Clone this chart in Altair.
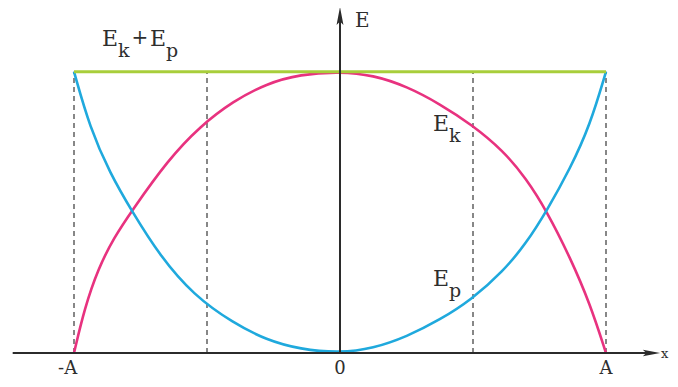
import altair as alt
import pandas as pd

# x in units of amplitude A, energy in units of total energy E
ek_x = [-1.0, -0.96, -0.909, -0.85, -0.783, -0.647, -0.526, -0.402, -0.276, -0.150, 0.0,
        0.124, 0.251, 0.376, 0.495, 0.613, 0.700, 0.777, 0.865, 0.940, 1.0]
ek_y = [0.0, 0.16, 0.30, 0.41, 0.505, 0.686, 0.806, 0.895, 0.958, 0.991, 1.0,
        0.988, 0.948, 0.885, 0.812, 0.720, 0.62, 0.505, 0.34, 0.175, 0.0]

ep_x = [-1.0, -0.94, -0.865, -0.783, -0.677, -0.55, -0.402, -0.276, -0.150, 0.0,
        0.124, 0.251, 0.376, 0.495, 0.613, 0.700, 0.777, 0.865, 0.940, 1.0]
ep_y = [1.0, 0.80, 0.64, 0.505, 0.345, 0.205, 0.107, 0.046, 0.013, 0.0,
        0.016, 0.058, 0.118, 0.190, 0.290, 0.39, 0.505, 0.655, 0.810, 1.0]

total_x = [-1.0, 1.0]
total_y = [1.0, 1.0]

dash_x = [-1.0, -0.5, 0.5, 1.0]

tick_labels = ["-A", "0", "A"]
tick_x = [-1.024, 0.0, 1.0]

# energy labels: main letter, subscript, anchor
lab_main = ["E", "E", "E", "E"]
lab_sub = ["k", "p", "k", "p"]
lab_x = [-0.895, -0.714, 0.350, 0.350]
lab_y = [1.091, 1.091, 0.789, 0.238]

W, H = 662, 371
X0, UX = 340 - 8, 266.0   # pixel of x=0 within plot, px per A
Y0, UY = 353 - 8, 281.3   # pixel of E=0 within plot, px per E
xs = alt.Scale(domain=[-X0 / UX, (W - X0) / UX], nice=False, zero=False)
ys = alt.Scale(domain=[(Y0 - H) / UY, Y0 / UY], nice=False, zero=False)

def X(f="x"):
    return alt.X(f"{f}:Q", scale=xs, axis=None)

def Y(f="y"):
    return alt.Y(f"{f}:Q", scale=ys, axis=None)

axis_col = "#2b2b2b"
text_col = "#2e2e2e"
serif = "DejaVu Serif"

dash = alt.Chart(pd.DataFrame({"x": dash_x, "y": 0.0, "y2": 1.0})).mark_rule(
    color="#555555", strokeWidth=1.4, strokeDash=[5, 4]
).encode(x=X(), y=Y(), y2="y2:Q")

xaxis = alt.Chart(pd.DataFrame({"x": [-1.2305], "x2": [1.16], "y": [0.0]})).mark_rule(
    color=axis_col, strokeWidth=2
).encode(x=X(), x2="x2:Q", y=Y())

yaxis = alt.Chart(pd.DataFrame({"x": [0.0], "y": [0.0], "y2": [1.18]})).mark_rule(
    color=axis_col, strokeWidth=2
).encode(x=X(), y=Y(), y2="y2:Q")

arrow_r = alt.Chart(pd.DataFrame({"x": [1.171], "y": [0.0]})).mark_point(
    shape="M1,0L-1,0.38L-0.6,0L-1,-0.38Z", size=300, filled=True,
    color=axis_col, opacity=1
).encode(x=X(), y=Y())

arrow_u = alt.Chart(pd.DataFrame({"x": [0.0], "y": [1.198]})).mark_point(
    shape="M0,-1L0.38,1L0,0.6L-0.38,1Z", size=330, filled=True,
    color=axis_col, opacity=1
).encode(x=X(), y=Y())

ek = alt.Chart(pd.DataFrame({"x": ek_x, "y": ek_y})).mark_line(
    color="#E8327F", strokeWidth=2.6, interpolate="basis"
).encode(x=X(), y=Y())

ep = alt.Chart(pd.DataFrame({"x": ep_x, "y": ep_y})).mark_line(
    color="#1FA9DD", strokeWidth=2.6, interpolate="basis"
).encode(x=X(), y=Y())

tot = alt.Chart(pd.DataFrame({"x": total_x, "y": total_y})).mark_line(
    color="#A8CE3B", strokeWidth=3
).encode(x=X(), y=Y())

labdf = pd.DataFrame({"main": lab_main, "sub": lab_sub, "x": lab_x, "y": lab_y})
lab_main_t = alt.Chart(labdf).mark_text(
    font=serif, fontSize=22, align="left", baseline="alphabetic", color=text_col
).encode(x=X(), y=Y(), text="main:N")
lab_sub_t = alt.Chart(labdf).mark_text(
    font=serif, fontSize=19, align="left", baseline="alphabetic", color=text_col,
    dx=16, dy=11
).encode(x=X(), y=Y(), text="sub:N")

plus = alt.Chart(pd.DataFrame({"t": ["+"], "x": [-0.752], "y": [1.098]})).mark_text(
    font=serif, fontSize=20, align="center", baseline="alphabetic", color=text_col
).encode(x=X(), y=Y(), text="t:N")

ticks = alt.Chart(pd.DataFrame({"t": tick_labels, "x": tick_x, "y": -0.074})).mark_text(
    font=serif, fontSize=18, align="center", baseline="alphabetic", color=text_col
).encode(x=X(), y=Y(), text="t:N")

axlabels = alt.Chart(pd.DataFrame({"t": ["E"], "x": [0.0564], "y": [1.159]})).mark_text(
    font=serif, fontSize=20, align="left", baseline="alphabetic", color=text_col
).encode(x=X(), y=Y(), text="t:N")

xlabel = alt.Chart(pd.DataFrame({"t": ["x"], "x": [1.2068], "y": [-0.018]})).mark_text(
    font=serif, fontSize=13, align="left", baseline="alphabetic", color=text_col
).encode(x=X(), y=Y(), text="t:N")

chart = alt.layer(
    dash, ek, ep, tot, xaxis, yaxis, arrow_r, arrow_u,
    lab_main_t, lab_sub_t, plus, ticks, axlabels, xlabel
).properties(
    width=W, height=H, padding=0, background="white",
    autosize=alt.AutoSizeParams(type="none")
).configure_view(stroke=None)

chart.save("out.html", embed_options={"renderer": "svg", "actions": False})
